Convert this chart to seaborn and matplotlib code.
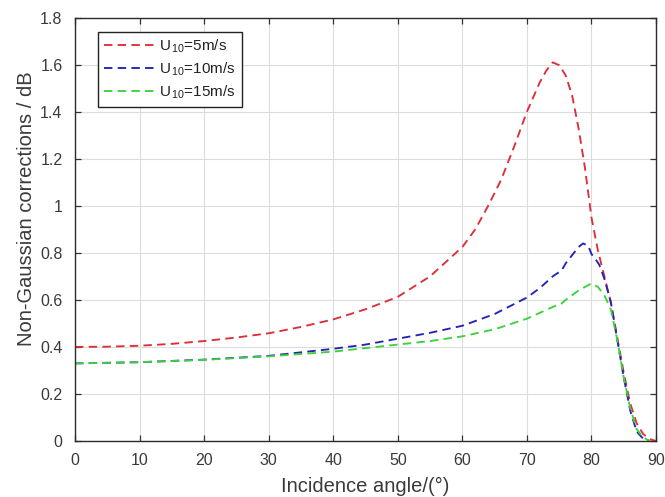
import numpy as np
import pandas as pd
import matplotlib
matplotlib.use("Agg")
import matplotlib.pyplot as plt
from matplotlib.lines import Line2D
import seaborn as sns

# Incidence angles (degrees) and non-Gaussian corrections (dB) for each wind speed
angle_5 = [0, 5, 10, 15, 20, 25, 30, 35, 40, 45, 50, 55, 60, 62, 64, 66, 68, 70,
           72, 73, 74, 75, 76, 77, 78, 79, 80, 81, 82, 83, 84, 85, 86, 87, 88, 89, 90]
corr_5 = [0.400, 0.401, 0.405, 0.413, 0.425, 0.440, 0.458, 0.485, 0.517, 0.560,
          0.613, 0.700, 0.825, 0.900, 1.000, 1.110, 1.250, 1.400, 1.525, 1.575,
          1.610, 1.598, 1.555, 1.470, 1.330, 1.160, 0.950, 0.810, 0.700, 0.590,
          0.440, 0.290, 0.160, 0.075, 0.030, 0.008, 0.000]

angle_10 = [0, 10, 20, 30, 40, 45, 50, 55, 60, 65, 70, 72, 74, 75.4, 76, 77, 78,
            78.7, 79.5, 80, 80.7, 81.2, 82, 83, 84, 85, 86, 87, 88, 89]
corr_10 = [0.330, 0.335, 0.346, 0.362, 0.392, 0.410, 0.435, 0.460, 0.490, 0.540,
           0.610, 0.650, 0.700, 0.726, 0.755, 0.790, 0.825, 0.840, 0.830, 0.795,
           0.770, 0.750, 0.690, 0.590, 0.430, 0.270, 0.130, 0.040, 0.010, 0.000]

angle_15 = [0, 10, 20, 30, 40, 50, 55, 60, 65, 70, 72, 74, 75.4, 76, 78, 79, 80,
            81, 82, 83, 84, 85, 86, 87, 88, 89]
corr_15 = [0.330, 0.335, 0.345, 0.360, 0.380, 0.410, 0.425, 0.445, 0.475, 0.520,
           0.545, 0.570, 0.585, 0.600, 0.640, 0.655, 0.670, 0.655, 0.620, 0.560,
           0.430, 0.270, 0.140, 0.050, 0.015, 0.000]

series_labels = [r"U$_{\,10}$=5m/s", r"U$_{\,10}$=10m/s", r"U$_{\,10}$=15m/s"]
series_colors = ["#dc2f38", "#2424b4", "#3cd23c"]

x_ticks = list(range(0, 91, 10))
y_ticks = [0, 0.2, 0.4, 0.6, 0.8, 1.0, 1.2, 1.4, 1.6, 1.8]

frames = []
for ang, val, lab in zip([angle_5, angle_10, angle_15],
                         [corr_5, corr_10, corr_15], series_labels):
    frames.append(pd.DataFrame({"angle": ang, "corr": val, "wind": lab}))
df = pd.concat(frames, ignore_index=True)

sns.set_theme(style="whitegrid")
plt.rcParams["font.family"] = ["Liberation Sans", "DejaVu Sans"]
plt.rcParams["mathtext.fontset"] = "custom"
plt.rcParams["mathtext.rm"] = "Liberation Sans"
plt.rcParams["mathtext.it"] = "Liberation Sans"

fig = plt.figure(figsize=(6.65, 4.97), dpi=100)
ax = fig.add_axes([0.1128, 0.1127, 0.8737, 0.8517])

palette = dict(zip(series_labels, series_colors))
dash = (4.5, 2.8)
sns.lineplot(data=df, x="angle", y="corr", hue="wind", style="wind",
             palette=palette, dashes={l: dash for l in series_labels},
             estimator=None, sort=True, linewidth=1.35, ax=ax, legend=False)

ax.set_xlim(0, 90)
ax.set_ylim(0, 1.8)
ax.set_xticks(x_ticks)
ax.set_yticks(y_ticks)
ax.set_xticklabels([f"{t:g}" for t in x_ticks])
ax.set_yticklabels([f"{t:g}" for t in y_ticks])
ax.tick_params(axis="both", which="both", direction="in", length=4, width=0.9,
               top=True, right=True, bottom=True, left=True,
               labelsize=11.5, colors="#333333", labelcolor="#3a3a3a")
ax.tick_params(axis="y", pad=9)
ax.tick_params(axis="x", pad=9)
ax.grid(True, color="#dcdcdc", linewidth=0.8)
for sp in ax.spines.values():
    sp.set_visible(True)
    sp.set_color("#2b2b2b")
    sp.set_linewidth(1.0)
ax.set_facecolor("white")

ax.set_xlabel("Incidence angle/(°)", fontsize=14.5, color="#3a3a3a", labelpad=6)
ax.set_ylabel("Non-Gaussian corrections / dB", fontsize=14.5, color="#3a3a3a")
ax.yaxis.set_label_coords(-0.068, 0.548)

handles = [Line2D([0], [0], color=c, linewidth=1.35, linestyle=(0, dash))
           for c in series_colors]
leg = ax.legend(handles, series_labels, loc="upper left",
                bbox_to_anchor=(0.04, 0.967), fontsize=11, handlelength=3.4,
                handletextpad=0.2, labelspacing=0.35, borderpad=0.4,
                frameon=True, fancybox=False, framealpha=1, borderaxespad=0)
leg.get_frame().set_edgecolor("#222222")
leg.get_frame().set_linewidth(1.0)
for t in leg.get_texts():
    t.set_color("#222222")

fig.savefig("out.png", dpi=100, facecolor="white")
